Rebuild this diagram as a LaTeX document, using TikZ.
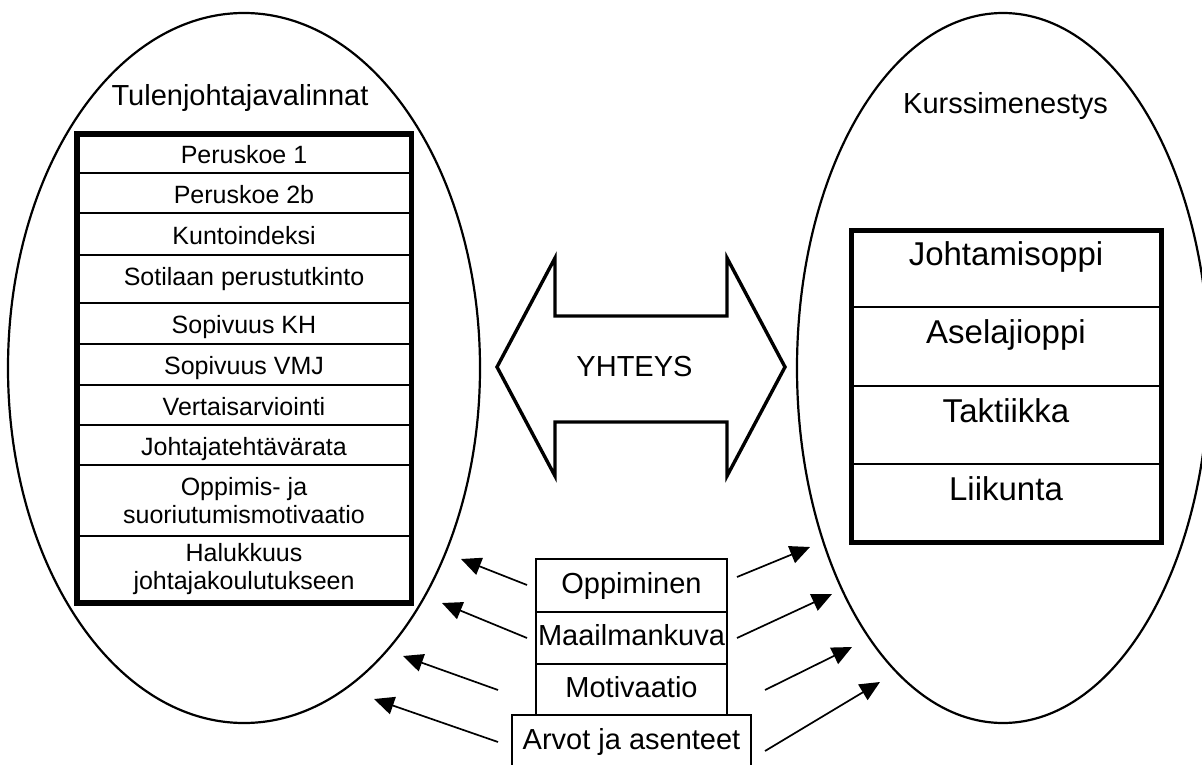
\documentclass[tikz,border=0pt]{standalone}
\usepackage{fontspec}
\setmainfont{Liberation Sans}
\usetikzlibrary{calc}
\usetikzlibrary{arrows.meta}
\usetikzlibrary{positioning}
\usetikzlibrary{shapes.geometric}

\begin{document}
\begin{tikzpicture}
  [
    x=1pt, y=-1pt,
    oval/.style  = {draw, ellipse, line width=2.2pt, minimum height=710pt, inner sep=0pt},
    title/.style = {font=\fontsize{29}{33}\selectfont, anchor=base},
    lrow/.style  = {draw, line width=2.4pt, minimum width=334.5pt, inner sep=0pt, outer sep=0pt,
                    align=center, font=\fontsize{25}{28}\selectfont},
    lrowone/.style = {lrow, text height=20pt, text depth=0pt},
    rrow/.style  = {draw, line width=2pt, minimum width=310pt, minimum height=78pt, inner sep=0pt,
                    outer sep=0pt, text height=24pt, text depth=30pt, font=\fontsize{33}{38}\selectfont},
    sbox/.style  = {draw, line width=1.8pt, minimum width=191pt, inner sep=0pt, outer sep=0pt,
                    text height=21pt, text depth=6pt, font=\fontsize{29}{33}\selectfont},
    pull/.style  = {-{Triangle[length=20pt, width=18pt]}, line width=1.7pt}
  ]
\useasboundingbox (0, 0) rectangle (1202, 765);

% ---------------------------------------------------
% Ovals
\node[oval, minimum width=472pt] (tul)    at ( 244, 368) {};
\node[oval, minimum width=412pt] (kurssi) at (1003, 368) {};
\node[title] (tultitle) at ( 240, 106) {Tulenjohtajavalinnat};
\node[title] (kurtitle) at (1005.5, 114) {Kurssimenestys};

% ---------------------------------------------------
% Left table
\node[lrowone, minimum height=39pt] (pk1) at (244, 153.5) {Peruskoe 1};
\node[lrowone, minimum height=40pt, below=0pt of pk1]    (pk2b)   {Peruskoe 2b};
\node[lrowone, minimum height=42pt, below=0pt of pk2b]   (kunto)  {Kuntoindeksi};
\node[lrowone, minimum height=48pt, text depth=8pt, below=0pt of kunto] (sotil) {Sotilaan perustutkinto};
\node[lrowone, minimum height=41pt, below=0pt of sotil]  (sopkh)  {Sopivuus KH};
\node[lrowone, minimum height=41pt, below=0pt of sopkh]  (sopvmj) {Sopivuus VMJ};
\node[lrowone, minimum height=40pt, below=0pt of sopvmj] (verta)  {Vertaisarviointi};
\node[lrowone, minimum height=40pt, below=0pt of verta]  (jteht)  {Johtajatehtävärata};
\node[lrow, minimum height=71pt, below=0pt of jteht]  (oppmot) {Oppimis- ja\\suoriutumismotivaatio};
\node[lrow, minimum height=67pt, below=0pt of oppmot] (halu)   {Halukkuus\\johtajakoulutukseen};
\draw[line width=5.5pt] (pk1.north west) rectangle (halu.south east);

% ---------------------------------------------------
% Right table
\node[rrow, minimum height=77pt] (johto) at (1006, 268.5) {Johtamisoppi};
\node[rrow, minimum height=79pt, below=0pt of johto] (asel)  {Aselajioppi};
\node[rrow, below=0pt of asel]  (takt)  {Taktiikka};
\node[rrow, below=0pt of takt]  (liik)  {Liikunta};
\draw[line width=5pt] (johto.north west) rectangle (liik.south east);

% ---------------------------------------------------
% Connection - double arrow
\coordinate[] (ltip) at (497, 367);
\coordinate[] (rtip) at (785, 367);
\draw[line width=3.4pt] (ltip) -- (555, 258) -- (555, 316) -- (727, 316) -- (727, 258)
  -- (rtip) -- (727, 476) -- (727, 422) -- (555, 422) -- (555, 476) -- cycle;
\node[title, anchor=center] (yht) at (634.5, 367) {YHTEYS};

% ---------------------------------------------------
% Stack of factors
\node[sbox, minimum height=53pt] (oppi) at (631.5, 585.5) {Oppiminen};
\node[sbox, minimum height=52pt, below=0pt of oppi]  (maail) {Maailmankuva};
\node[sbox, minimum height=51pt, below=0pt of maail] (moti)  {Motivaatio};
\node[sbox, minimum width=239pt, minimum height=54pt, below=0pt of moti] (arvot) {Arvot ja asenteet};

% Arrow start points
\coordinate[] (ls1) at ($ (oppi.west)  + ( -9, -0.5) $);
\coordinate[] (ls2) at ($ (maail.west) + ( -9,  0) $);
\coordinate[] (ls3) at ($ (moti.west)  + (-38,  0.5) $);
\coordinate[] (ls4) at ($ (arvot.west) + (-14,  0) $);
\coordinate[] (rs1) at ($ (oppi.east)  + ( 10, -8.5) $);
\coordinate[] (rs2) at ($ (maail.east) + ( 10,  0) $);
\coordinate[] (rs3) at ($ (moti.east)  + ( 38,  0.5) $);
\coordinate[] (rs4) at ($ (arvot.east) + ( 14,  9) $);
% Arrow end points
\coordinate[] (le1) at (461, 559);
\coordinate[] (le2) at (442, 603);
\coordinate[] (le3) at (403, 656);
\coordinate[] (le4) at (374, 699);
\coordinate[] (re1) at (810, 547);
\coordinate[] (re2) at (832, 594);
\coordinate[] (re3) at (852, 647);
\coordinate[] (re4) at (880, 682);

\foreach \i in {1,...,4} {
  \path[] (ls\i) edge[pull] (le\i);
  \path[] (rs\i) edge[pull] (re\i);
}
% ---------------------------------------------------
\end{tikzpicture}
\end{document}
